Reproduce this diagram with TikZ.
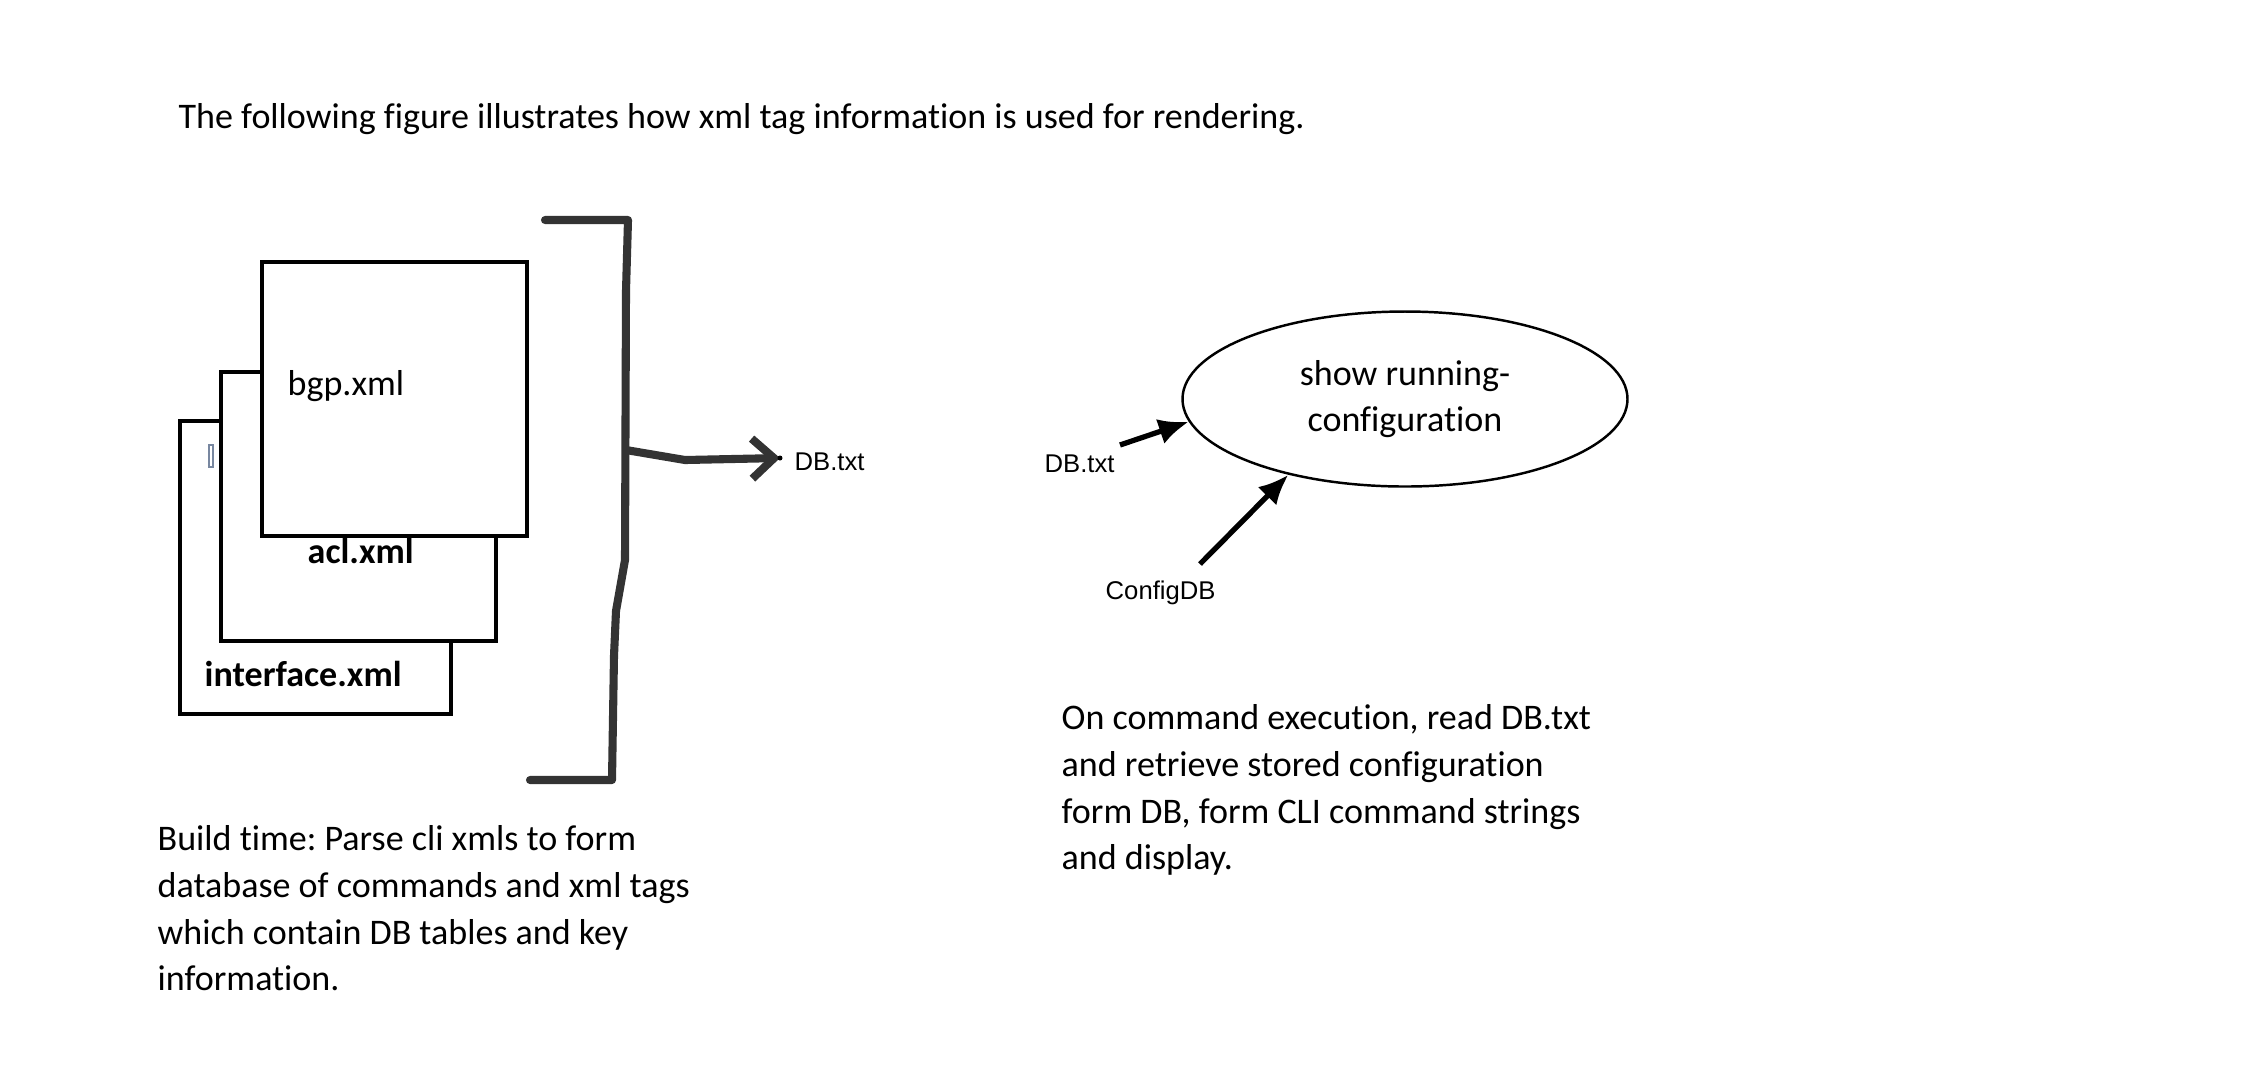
\documentclass[tikz,border=0pt]{standalone}
\usepackage{fontspec}
\setmainfont{Carlito}[Ligatures=NoCommon]
\newfontfamily\arialfont{Liberation Sans}
\usetikzlibrary{arrows.meta,shapes.geometric,positioning}
\definecolor{bracketgray}{HTML}{333333}
\definecolor{cursorgray}{RGB}{120,135,160}
\newcommand\bodysize{\fontsize{10.25pt}{13.3pt}\selectfont}
\frenchspacing
\tikzset{
  xmlbox/.style={line width=1pt, fill=white},
  bracketline/.style={line width=2.3pt, draw=bracketgray, line cap=round, line join=round},
  pointer/.style={line width=1.5pt, -{Latex[length=3mm,width=2.6mm]}},
  tagtext/.style={font=\arialfont\fontsize{7.3pt}{9pt}\selectfont},
  bodytext/.style={font=\bodysize, align=left, anchor=north west}
}
\begin{document}
\begin{tikzpicture}[every node/.style={inner sep=0pt}]
  \useasboundingbox (0,0) rectangle (22.45,-10.64);
  \node[anchor=base west, font=\bodysize] (title) at (1.78,-1.28)
    {The following figure illustrates how xml tag information is used for rendering.};
  % xml files, back to front
  \draw[xmlbox] (1.80,-4.21) rectangle (4.51,-7.14);
  \draw[draw=cursorgray, line width=0.4pt] (2.09,-4.45) rectangle (2.13,-4.67);
  \draw[xmlbox] (2.21,-3.72) rectangle (4.96,-6.41);
  \draw[xmlbox] (2.62,-2.62) rectangle (5.27,-5.36);
  \node[anchor=west, font=\bodysize] (bgp) at (2.87,-3.86) {bgp.xml};
  \node[anchor=west, font=\bodysize\bfseries] (acl) at (3.07,-5.51) {acl.xml};
  \node[anchor=west, font=\bodysize\bfseries] (iface) at (2.04,-6.74) {interface.xml};
  % bracket and output file
  \draw[bracketline] (5.45,-2.20) -- (6.28,-2.20) -- (6.26,-2.91) -- (6.25,-5.60)
    -- (6.16,-6.11) -- (6.14,-6.56) -- (6.12,-7.80) -- (5.30,-7.80);
  \coordinate (junc) at (6.26,-4.50);
  \coordinate (dbtip) at (7.80,-4.58);
  \node[tagtext, anchor=west] (dbout) at (7.94,-4.62) {DB.txt};
  \draw[bracketline, -{Straight Barb[length=2.2mm,width=4mm]}] (junc) -- (6.85,-4.60) -- (dbtip);
  \fill (dbtip) circle (0.025);
  % run time
  \node[draw, ellipse, line width=0.7pt, minimum width=4.45cm, minimum height=1.75cm,
    align=center, font=\bodysize] (cmd) at (14.05,-3.99) {show running-\\configuration};
  \node[tagtext, anchor=west] (dbin) at (10.44,-4.64) {DB.txt};
  \node[tagtext, anchor=west] (cfg) at (11.05,-5.93) {ConfigDB};
  \coordinate (dbtail) at (11.20,-4.45);
  \coordinate (cfgtail) at (12.00,-5.64);
  \draw[pointer] (dbtail) -- (cmd.186);
  \draw[pointer] (cfgtail) -- (cmd.213);
  % notes
  \node[bodytext] (buildnote) at (1.57,-8.25) {Build time: Parse cli xmls to form\\
    database of commands and xml tags\\which contain DB tables and key\\information.};
  \node[bodytext] (runnote) at (10.61,-7.04) {On command execution, read DB.txt\\
    and retrieve stored configuration\\form DB, form CLI command strings\\and display.};
\end{tikzpicture}
\end{document}
